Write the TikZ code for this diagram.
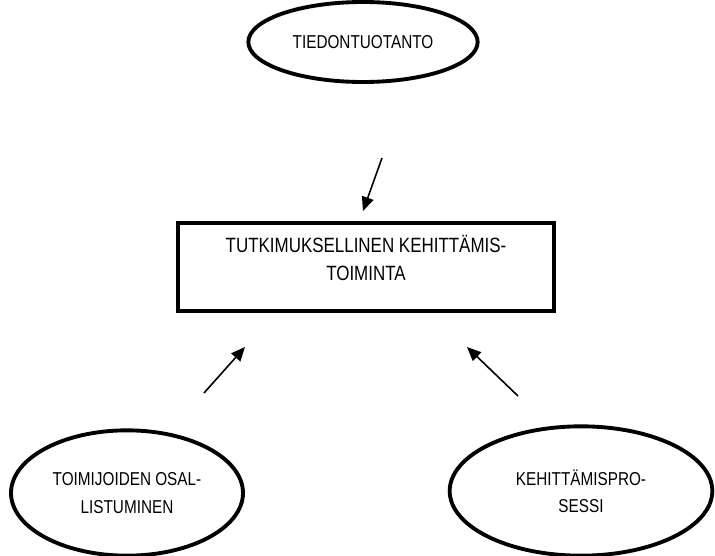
\documentclass[tikz,border=0pt]{standalone}
\usepackage{fontspec}
\setmainfont{Liberation Sans}[FakeStretch=0.82]
\usetikzlibrary{shapes.geometric,arrows.meta}

\tikzset{
  oval/.style={draw, ellipse, line width=2.9pt, align=center, inner sep=0pt, font=\fontsize{14}{20.5}\selectfont},
  box/.style={draw, rectangle, line width=2.9pt, align=center, inner sep=0pt, font=\fontsize{15.5}{20.5}\selectfont},
  flow/.style={line width=1.2pt, -{Triangle[length=10.5pt,width=9pt]}}
}

\begin{document}
\begin{tikzpicture}[x=0.75pt,y=0.75pt,yscale=-1,xscale=1]
\useasboundingbox (0,0) rectangle (715,556);

%Shape: Ellipse [id:tiedontuotanto]
\node [oval, minimum width=172pt, minimum height=60pt] (tieto) at (363,42) {TIEDONTUOTANTO};
%Shape: Rectangle [id:kehittamistoiminta]
\node [box, minimum width=282pt, minimum height=66pt, text depth=13.5pt] (toiminta) at (366,267) {TUTKIMUKSELLINEN KEHITTÄMIS-\\TOIMINTA};
%Shape: Ellipse [id:osallistuminen]
\node [oval, minimum width=174pt, minimum height=94pt] (osal) at (127,493) {TOIMIJOIDEN OSAL-\\LISTUMINEN};
%Shape: Ellipse [id:prosessi]
\node [oval, minimum width=197pt, minimum height=97pt] (prosessi) at (581,491) {KEHITTÄMISPRO-\\SESSI};

%Straight Lines [id:nuoli1]
\coordinate (n1a) at (382,158);
\coordinate (n1b) at (363,211);
\draw [flow] (n1a) -- (n1b);
%Straight Lines [id:nuoli2]
\coordinate (n2a) at (204,393);
\coordinate (n2b) at (245,347);
\draw [flow] (n2a) -- (n2b);
%Straight Lines [id:nuoli3]
\coordinate (n3a) at (518,396);
\coordinate (n3b) at (467,347);
\draw [flow] (n3a) -- (n3b);

\end{tikzpicture}
\end{document}
